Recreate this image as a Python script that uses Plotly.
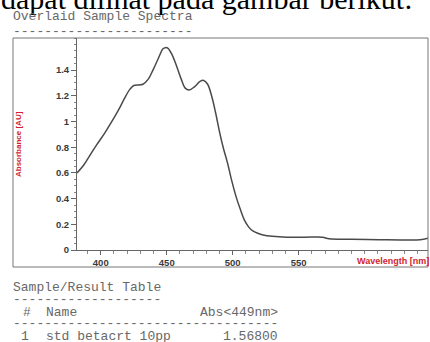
import plotly.graph_objects as go

# ---- data ----
wavelength_nm = [382, 387, 392, 397, 403, 409, 414, 418, 422, 425, 429, 432, 436, 440, 444,
                 447, 449, 451, 454, 457.5, 461, 464, 467, 471, 475, 478, 481, 484, 487, 490,
                 493, 496, 499, 503, 506, 509, 512, 515, 519, 523, 530, 541, 555, 568, 573,
                 590, 611, 630, 642, 648]
absorbance_au = [0.60, 0.66, 0.74, 0.82, 0.91, 1.01, 1.10, 1.18, 1.25, 1.28, 1.285, 1.29, 1.33,
                 1.41, 1.50, 1.565, 1.575, 1.57, 1.52, 1.43, 1.33, 1.26, 1.245, 1.27, 1.31,
                 1.32, 1.29, 1.20, 1.07, 0.92, 0.79, 0.68, 0.55, 0.40, 0.31, 0.23, 0.18, 0.15,
                 0.13, 0.117, 0.107, 0.10, 0.10, 0.10, 0.087, 0.083, 0.08, 0.078, 0.08, 0.092]

x_tick_vals = [400, 450, 500, 550]
y_tick_vals = [0, 0.2, 0.4, 0.6, 0.8, 1.0, 1.2, 1.4]
y_tick_text = ["0", "0.2", "0.4", "0.6", "0.8", "1", "1.2", "1.4"]

caption_text = "dapat dilihat pada gambar berikut:"
title_text = "Overlaid Sample Spectra"
table_title = "Sample/Result Table"
table_header = ["#", "Name", "Abs<449nm>"]
table_row = ["1", "std betacrt 10pp", "1.56800"]

W, H = 430, 342
L, R, T, B = 77, 2, 38, 92
PW, PH = W - L - R, H - T - B


def px(x):
    return (x - L) / PW


def py(y):
    return (H - B - y) / PH


fig = go.Figure()
fig.add_trace(go.Scatter(x=wavelength_nm, y=absorbance_au, mode="lines",
                         line=dict(color="#4a4a4a", width=1.5), line_shape="spline",
                         hoverinfo="skip", showlegend=False))

axis_font = dict(family="Liberation Sans", size=9.5, color="#3a3a3a")
fig.update_xaxes(range=[382, 648], showgrid=False, zeroline=False, showline=True,
                 linecolor="#666", linewidth=1, ticks="outside", ticklen=4, tickcolor="#666",
                 tickvals=x_tick_vals, ticktext=["<b>%d</b>" % v for v in x_tick_vals],
                 tickfont=axis_font,
                 minor=dict(dtick=10, ticks="outside", ticklen=3, tickcolor="#888"))
fig.update_yaxes(range=[0, 1.65], showgrid=False, zeroline=False, showline=True,
                 linecolor="#666", linewidth=1, ticks="outside", ticklen=5, tickcolor="#666",
                 tickvals=y_tick_vals, ticktext=["<b>%s</b>" % t for t in y_tick_text],
                 tickfont=axis_font,
                 minor=dict(dtick=0.05, ticks="outside", ticklen=2, tickcolor="#888"))

shapes = [
    dict(type="rect", xref="paper", yref="paper", x0=px(13), x1=1, y0=py(267), y1=1,
         line=dict(color="#777", width=1)),
]

mono = "Liberation Mono"
gray = "#686868"
anns = []


def text(x, y, s, size=13, color=gray, family=mono, xanchor="left", angle=0, bold=False,
         yanchor="middle"):
    anns.append(dict(x=px(x), y=py(y), xref="paper", yref="paper", text=("<b>%s</b>" % s) if bold else s,
                     showarrow=False, xanchor=xanchor, yanchor=yanchor, textangle=angle,
                     font=dict(family=family, size=size, color=color)))


text(11, 17, title_text)
text(11, 31, "-" * 23)
text(355, 261, "Wavelength [nm]", size=9, color="#d01e2e", family="Liberation Sans", bold=True)
text(18, 144, "Absorbance [AU]", size=8, color="#d01e2e", family="Liberation Sans", xanchor="center",
     angle=-90, bold=True)
text(11, 287, table_title)
text(11, 299, "-" * 19)
text(21, 312, table_header[0])
text(44, 312, table_header[1])
text(198, 312, table_header[2])
text(11, 323, "-" * 34)
text(19, 336, table_row[0])
text(44, 336, table_row[1])
text(221, 336, table_row[2])

fig.update_layout(width=W, height=H, margin=dict(l=L, r=R, t=T, b=B),
                  paper_bgcolor="white", plot_bgcolor="white",
                  title=dict(text=caption_text, x=1 / W, xanchor="left", xref="container",
                             y=1 - 9 / H, yanchor="bottom", yref="container",
                             font=dict(family="Liberation Serif", size=30, color="#000")),
                  shapes=shapes, annotations=anns, showlegend=False)
fig.write_html("out.html")
